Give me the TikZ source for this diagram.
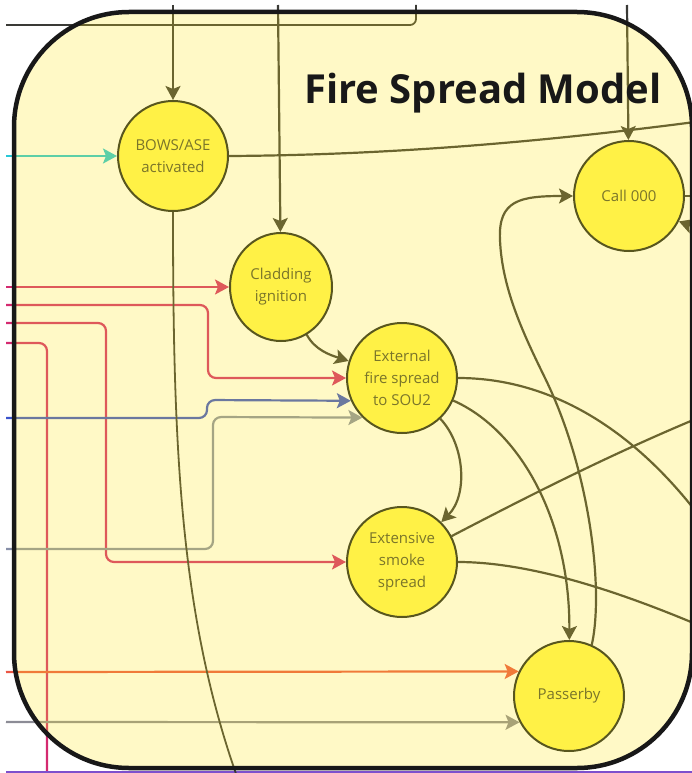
\documentclass[tikz,border=0pt]{standalone}
\usepackage{fontspec}
\setmainfont{Open Sans}
\usetikzlibrary{arrows.meta,shapes.geometric}

% wire colours (before the yellow wash is laid over them)
\definecolor{ink}{RGB}{58,58,54}
\definecolor{teal}{RGB}{40,200,215}
\definecolor{rose}{RGB}{212,42,112}
\definecolor{steel}{RGB}{58,83,204}
\definecolor{haze}{RGB}{135,143,168}
\definecolor{ember}{RGB}{235,86,68}
\definecolor{stone}{RGB}{140,140,150}
\definecolor{violet}{RGB}{125,80,205}
% panel and states
\definecolor{wash}{RGB}{255,231,27}
\definecolor{frame}{RGB}{24,24,24}
\definecolor{statefill}{RGB}{255,241,70}
\definecolor{stateedge}{RGB}{88,86,30}
\definecolor{statetext}{RGB}{122,117,42}
\definecolor{titleink}{RGB}{24,24,24}

\pgfdeclarelayer{wires}
\pgfdeclarelayer{panel}
\pgfsetlayers{wires,panel,main}

\begin{document}
\begin{tikzpicture}[x=1pt,y=-1pt,
  state/.style={circle, draw=stateedge, fill=statefill, line width=2pt,
    minimum size=110pt, inner sep=0pt, text=statetext, align=center,
    font=\fontsize{15}{22}\selectfont},
  heading/.style={anchor=base west, inner sep=0pt, text=titleink,
    font=\fontsize{40}{48}\selectfont\bfseries},
  wire/.style={line width=2.2pt, -{Stealth[length=14pt,width=15pt,inset=3pt]}},
  plain/.style={line width=2.2pt},
  thin wire/.style={line width=1.8pt}]

\useasboundingbox (0,0) rectangle (692,773);

% states
\node[state] (bows) at (173,156) {BOWS/ASE\\activated};
\node[state, ellipse, minimum width=102pt, minimum height=108pt] (clad) at (281,287) {Cladding\\ignition};
\node[state] (ext) at (402,378) {External\\fire spread\\to SOU2};
\node[state] (smoke) at (402,562) {Extensive\\smoke\\spread};
\node[state] (call) at (629,196) {Call 000};
\node[state] (pass) at (569,696) {Passerby};
\node[heading] (title) at (304,103) {Fire Spread Model};

% free ends of wires entering or leaving the panel
\coordinate (topBows) at (173,5);
\coordinate (topClad) at (278,5);
\coordinate (topCall) at (627,5);
\coordinate (topLoopL) at (6,25);
\coordinate (topLoopR) at (416,5);
\coordinate (leftTeal) at (6,156);
\coordinate (leftRoseA) at (6,287);
\coordinate (leftRoseB) at (6,305);
\coordinate (leftRoseC) at (6,323);
\coordinate (leftRoseD) at (6,343);
\coordinate (downRoseD) at (47,780);
\coordinate (leftSteel) at (6,418);
\coordinate (leftHaze) at (6,549);
\coordinate (leftEmber) at (6,672);
\coordinate (leftStone) at (6,722);
\coordinate (leftViolet) at (6,772);
\coordinate (rightViolet) at (700,772);
\coordinate (outBows) at (710,120);
\coordinate (downBows) at (240,785);
\coordinate (outExt) at (720,545);
\coordinate (outSmokeUp) at (710,413);
\coordinate (outSmoke) at (710,630);
\coordinate (outCall) at (700,196);
\coordinate (inCall) at (700,229);

\begin{pgfonlayer}{wires}
  % lines coming down from above
  \draw[wire, ink] (topBows) -- (bows);
  \draw[wire, ink] (topClad) -- (clad);
  \draw[wire, ink] (topCall) -- (call);
  \draw[plain, ink, line width=1.8pt, rounded corners=6pt] (topLoopL) -- (416,25) -- (topLoopR);

  % lines coming in from the left
  \draw[wire, teal] (leftTeal) -- (bows);
  \draw[wire, rose] (leftRoseA) -- (clad);
  \draw[wire, rose, rounded corners=8pt] (leftRoseB) -- (208,305) -- (208,378) -- (ext.west);
  \draw[wire, rose, rounded corners=8pt] (leftRoseC) -- (106,323) -- (106,562) -- (smoke.west);
  \draw[plain, rose, rounded corners=8pt] (leftRoseD) -- (47,343) -- (downRoseD);
  \draw[wire, steel, rounded corners=8pt] (leftSteel) -- (207,418) -- (207,400) -- (ext.204);
  \draw[wire, haze, rounded corners=8pt] (leftHaze) -- (213,549) -- (213,417) -- (ext.225);
  \draw[wire, ember] (leftEmber) -- (pass.154);
  \draw[wire, stone] (leftStone) -- (pass.208);
  \draw[plain, violet] (leftViolet) -- (rightViolet);

  % links between the states
  \draw[wire, ink] (clad) .. controls (315,350) and (330,355) .. (ext);
  \draw[wire, ink] (ext) .. controls (465,445) and (468,495) .. (smoke);
  \draw[wire, ink] (ext) .. controls (520,430) and (570,520) .. (pass);
  \draw[wire, ink] (pass.66) .. controls (604,590) and (590,470) .. (545,378)
        .. controls (525,337) and (502,290) .. (500,240)
        .. controls (498,200) and (520,196) .. (call.west);

  % lines leaving the panel
  \draw[plain, ink] (bows.east) .. controls (400,155) and (560,140) .. (outBows);
  \draw[thin wire, ink] (bows.south) .. controls (173,450) and (180,620) .. (downBows);
  \draw[plain, ink] (ext.east) .. controls (560,378) and (650,440) .. (outExt);
  \draw[plain, ink] (smoke) .. controls (540,490) and (620,450) .. (outSmokeUp);
  \draw[plain, ink] (smoke.east) .. controls (540,562) and (640,600) .. (outSmoke);
  \draw[plain, ink] (call.east) -- (outCall);
  \draw[wire, ink] (inCall) -- (call.-27);
\end{pgfonlayer}

\begin{pgfonlayer}{panel}
  % translucent yellow panel over the wiring, then its frame
  \fill[wash, fill opacity=0.25, rounded corners=115pt] (14,12) rectangle (692,768);
  \draw[frame, line width=4.5pt, rounded corners=115pt] (14,12) rectangle (692,768);
\end{pgfonlayer}
\end{tikzpicture}
\end{document}
